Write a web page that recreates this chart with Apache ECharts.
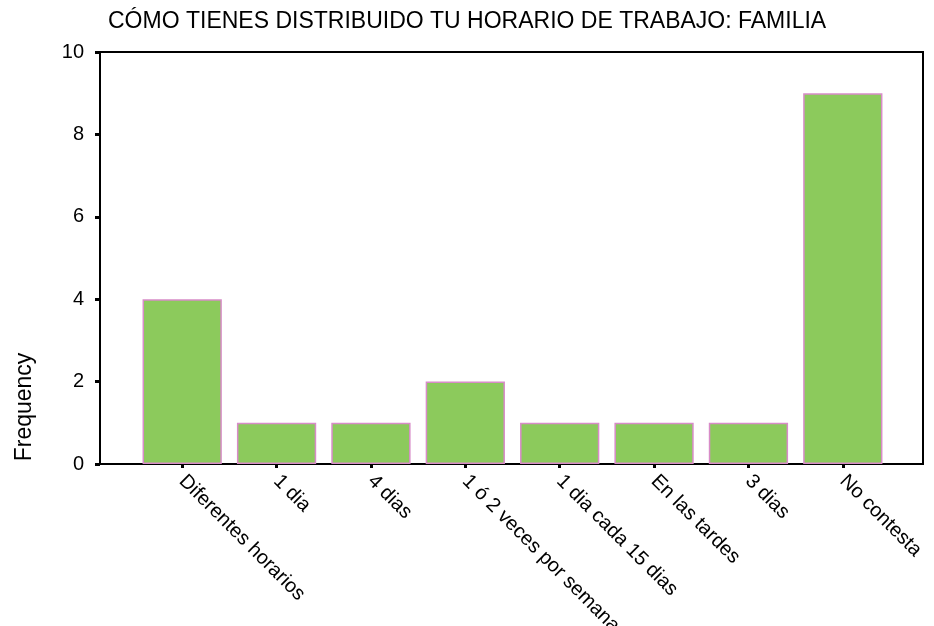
<!DOCTYPE html>
<html>
<head>
<meta charset="utf-8">
<script src="https://cdn.jsdelivr.net/npm/echarts@6/dist/echarts.min.js"></script>
<style>
  html, body { margin: 0; padding: 0; background: #fff; }
  #chart-box { width: 934px; height: 626px; }
</style>
</head>
<body>
<div id="chart-box"></div>
<script>
const categories = [
  "Diferentes horarios",
  "1 dia",
  "4 dias",
  "1 ó 2 veces por semana",
  "1 dia cada 15 dias",
  "En las tardes",
  "3 dias",
  "No contesta",
];
const frequency = [4, 1, 1, 2, 1, 1, 1, 9];
const yTicks = { min: 0, max: 10, interval: 2 };

const font = "'Liberation Sans', Arial, sans-serif";

const chart = echarts.init(document.getElementById("chart-box"));

const option = {
  animation: false,
  backgroundColor: "#fff",
  title: {
    text: "CÓMO TIENES DISTRIBUIDO TU HORARIO DE TRABAJO: FAMILIA",
    left: 103,
    top: 5,
    textStyle: {
      fontFamily: font,
      fontSize: 23,
      fontWeight: "normal",
      color: "#000",
    },
  },
  graphic: [
    {
      type: "text",
      x: 25,
      y: 407,
      rotation: Math.PI / 2,
      style: {
        text: "Frequency",
        font: "23px " + font,
        fill: "#000",
        align: "center",
        verticalAlign: "middle",
      },
    },
  ],
  grid: [
    // the framed box and the y axis
    {
      left: 100,
      right: 11,
      top: 52,
      bottom: 162,
      outerBoundsMode: "none",
      show: true,
      borderColor: "#000",
      borderWidth: 2,
      backgroundColor: "transparent",
    },
    // the bars sit in a narrower band inside the box
    {
      left: 135,
      right: 44,
      top: 52,
      bottom: 162,
      outerBoundsMode: "none",
    },
  ],
  xAxis: [
    { gridIndex: 0, type: "value", show: false },
    {
      gridIndex: 1,
      type: "category",
      data: categories,
      axisLine: { show: false },
      axisTick: {
        show: true,
        alignWithLabel: true,
        length: 4,
        lineStyle: { color: "#000", width: 3 },
      },
      axisLabel: {
        rotate: -45,
        margin: 14,
        interval: 0,
        fontFamily: font,
        fontSize: 20,
        color: "#000",
      },
    },
  ],
  yAxis: [
    {
      gridIndex: 0,
      type: "value",
      min: yTicks.min,
      max: yTicks.max,
      interval: yTicks.interval,
      axisLine: { show: true, lineStyle: { color: "#000", width: 2 } },
      axisTick: { show: true, length: 5, lineStyle: { color: "#000", width: 3 } },
      splitLine: { show: false },
      axisLabel: {
        margin: 16,
        fontFamily: font,
        fontSize: 20,
        color: "#000",
      },
    },
    {
      gridIndex: 1,
      type: "value",
      min: yTicks.min,
      max: yTicks.max,
      show: false,
    },
  ],
  series: [
    {
      name: "Frequency",
      type: "bar",
      xAxisIndex: 1,
      yAxisIndex: 1,
      data: frequency,
      barWidth: "84%",
      itemStyle: {
        color: "#8cca5c",
        borderColor: "#d88cc8",
        borderWidth: 1.5,
      },
    },
  ],
};

chart.setOption(option);
</script>
</body>
</html>
